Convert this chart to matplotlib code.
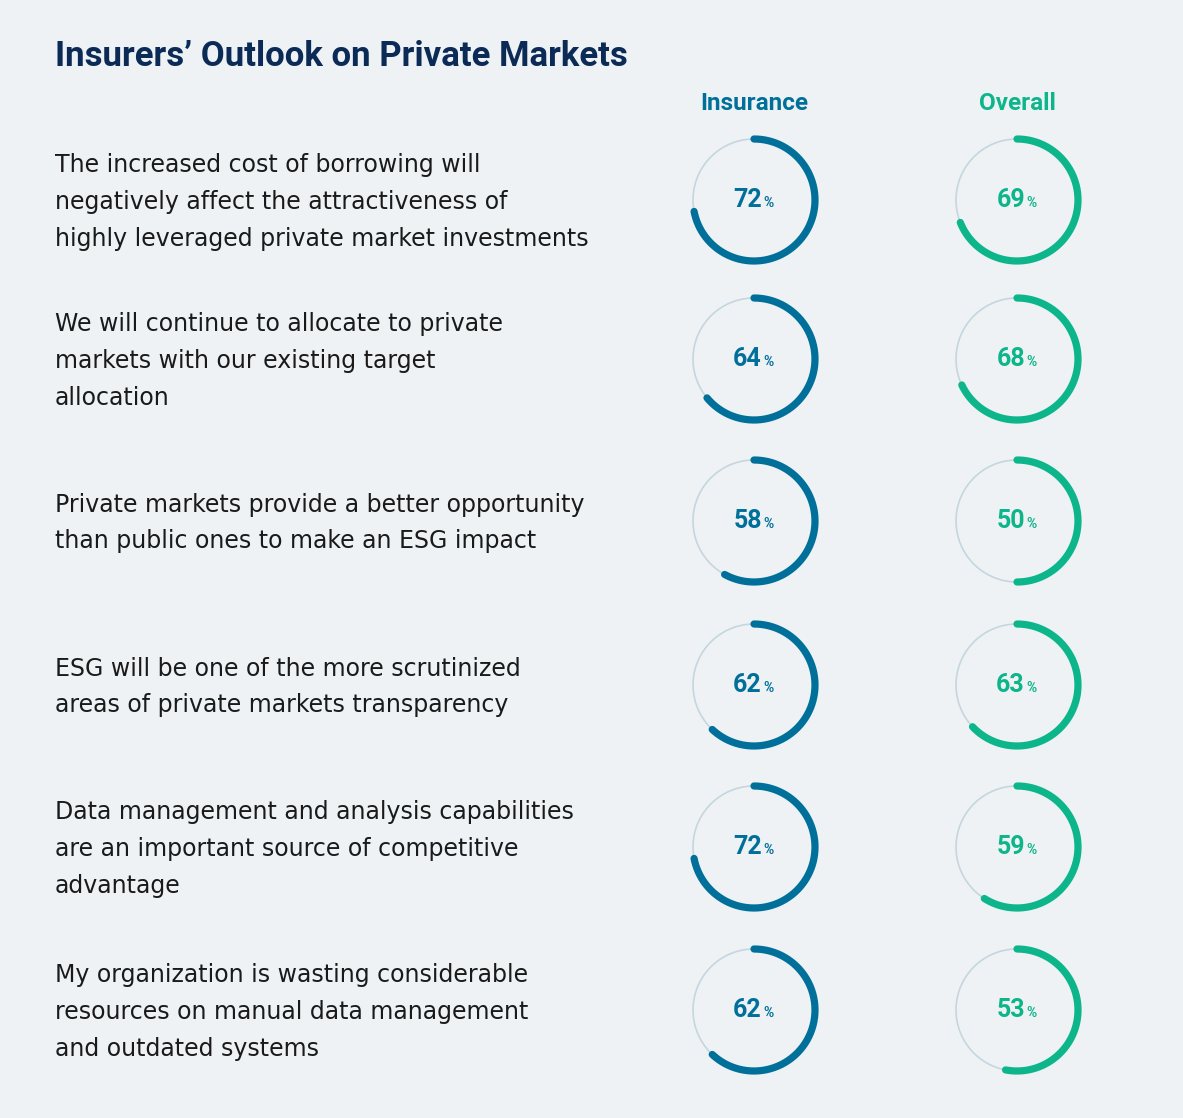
import numpy as np
import matplotlib
matplotlib.use("Agg")
import matplotlib.pyplot as plt

### Data ###
statements = [
    ["The increased cost of borrowing will",
     "negatively affect the attractiveness of",
     "highly leveraged private market investments"],
    ["We will continue to allocate to private",
     "markets with our existing target",
     "allocation"],
    ["Private markets provide a better opportunity",
     "than public ones to make an ESG impact"],
    ["ESG will be one of the more scrutinized",
     "areas of private markets transparency"],
    ["Data management and analysis capabilities",
     "are an important source of competitive",
     "advantage"],
    ["My organization is wasting considerable",
     "resources on manual data management",
     "and outdated systems"],
]
insurance = [72, 64, 58, 62, 72, 62]
overall = [69, 68, 50, 63, 59, 53]
series_names = ["Insurance", "Overall"]

### Styles ###
bg = "#EEF2F5"
navy = "#0B2A56"
blue = "#00709A"
green = "#0DB58A"
ring = "#C5D6DE"
text_col = "#1A1A1A"

W, H = 1183, 1118
fig = plt.figure(figsize=(W / 100, H / 100), dpi=100, facecolor=bg)
ax = fig.add_axes([0, 0, 1, 1])
ax.set_xlim(0, W)
ax.set_ylim(H, 0)
ax.set_aspect("equal")
ax.axis("off")
ax.set_facecolor(bg)

font = "Roboto"
body_font = "DejaVu Sans"

ax.text(55, 57, "Insurers\u2019 Outlook on Private Markets", fontsize=25,
        fontweight="bold", color=navy, family=font, va="center", ha="left")

col_x = [754, 1017]
col_colors = [blue, green]
row_y = [200, 359, 521, 685, 847, 1010]
radius = 61

for name, x, c in zip(series_names, col_x, col_colors):
    ax.text(x, 103, name, fontsize=17.5, fontweight="bold", color=c,
            family=font, ha="center", va="center")


def donut(cx, cy, pct, color):
    t = np.linspace(0, 2 * np.pi, 300)
    ax.plot(cx + radius * np.sin(t), cy - radius * np.cos(t),
            color=ring, lw=1.2, zorder=1)
    t = np.linspace(0, 2 * np.pi * pct / 100, 300)
    ax.plot(cx + radius * np.sin(t), cy - radius * np.cos(t),
            color=color, lw=5.2, solid_capstyle="round", zorder=2)
    ax.text(cx + 8, cy + 7, str(pct), fontsize=18, fontweight="bold",
            color=color, family=font, ha="right", va="baseline")
    ax.text(cx + 9, cy + 7, "%", fontsize=10, fontweight="bold",
            color=color, family=font, ha="left", va="baseline")


for i, cy in enumerate(row_y):
    lines = statements[i]
    n = len(lines)
    for j, line in enumerate(lines):
        y = cy + 2 + (j - (n - 1) / 2) * 36.7
        ax.text(55, y, line, fontsize=17, color=text_col, family=body_font,
                ha="left", va="center")
    donut(col_x[0], cy, insurance[i], blue)
    donut(col_x[1], cy, overall[i], green)

fig.savefig("out.png", dpi=100, facecolor=bg)
